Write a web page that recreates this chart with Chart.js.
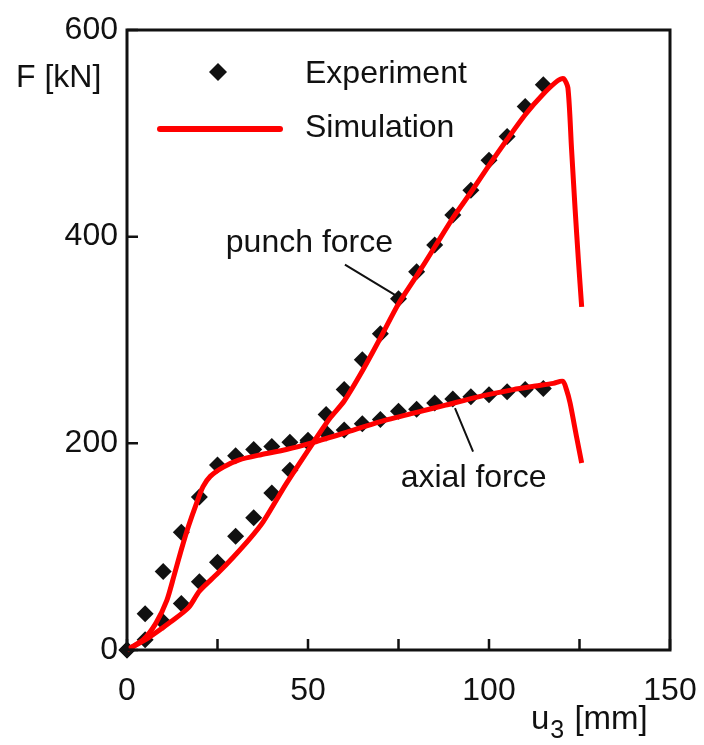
<!DOCTYPE html>
<html>
<head>
<meta charset="utf-8">
<script src="https://cdn.jsdelivr.net/npm/chart.js@4"></script>
<style>
  html, body { margin: 0; padding: 0; background: #fff; }
  #wrap { width: 704px; height: 745px; }
</style>
</head>
<body>
<div id="wrap"><canvas id="forceChart" width="704" height="745"></canvas></div>
<script>
// displacement u3 [mm] of the test readings
const expU = [0, 5, 10, 15, 20, 25, 30, 35, 40, 45, 50, 55, 60, 65, 70, 75, 80, 85, 90, 95, 100, 105, 110, 115];
const expPunch = [0, 10, 27, 45, 66, 85, 110, 128, 152, 174, 201, 228, 252, 281, 306, 340, 366, 392, 421, 445, 474, 497, 526, 547];
const expAxial = [0, 35, 76, 114, 148, 179, 188, 194, 197, 201, 203, 210, 213, 219, 223, 231, 233, 239, 243, 245, 247, 250, 252, 253];

// simulated curves
const simPunchU = [0, 6, 12, 17, 20, 25, 29.4, 34, 37.6, 44, 51.5, 56, 60, 65, 70, 75, 80, 85, 90, 95, 100, 105, 110, 115, 119, 120.6, 121.8, 122.8, 123.8, 124.7, 125.6];
const simPunchF = [0, 12, 27, 41, 57, 74, 90, 108, 124, 161, 201, 224, 241, 270, 302, 335, 362, 390, 418, 443, 469, 494, 518, 538, 551, 553, 544, 485, 426, 377, 332];
const simAxialU = [0, 4.5, 8, 11, 13, 15, 17, 19.2, 21, 23, 26.6, 31, 37, 44, 51.5, 60, 70, 80, 88, 97, 106.7, 112, 117.8, 120.4, 121.4, 122.4, 124.2, 125.6];
const simAxialF = [0, 10, 26, 48, 72, 97, 120, 142, 158, 168, 177, 184, 189, 194, 201, 210, 221, 230, 237, 245, 252, 255, 258, 260, 252, 239, 206, 181];

const xTicks = [0, 50, 100, 150];
const xMinor = [25, 75, 125];
const yTicks = [0, 200, 400, 600];

const FONT = "'Liberation Sans', Arial, sans-serif";
const INK = "#111";
const RED = "#ff0000";

function pairs(xs, ys) {
  return xs.map((x, i) => ({ x: x, y: ys[i] }));
}

// frame, inward ticks, titles, legend and curve labels
const decorations = {
  id: "decorations",
  afterDatasetsDraw(chart) {
    const ctx = chart.ctx;
    const a = chart.chartArea;
    const sx = chart.scales.x;
    const sy = chart.scales.y;
    ctx.save();

    ctx.strokeStyle = INK;
    ctx.lineWidth = 3;
    ctx.strokeRect(a.left, a.top, a.right - a.left, a.bottom - a.top);

    ctx.lineWidth = 2.5;
    ctx.beginPath();
    xTicks.concat(xMinor).forEach(v => {
      const px = sx.getPixelForValue(v);
      ctx.moveTo(px, a.bottom);
      ctx.lineTo(px, a.bottom - 11);
    });
    yTicks.forEach(v => {
      const py = sy.getPixelForValue(v);
      ctx.moveTo(a.left, py);
      ctx.lineTo(a.left + 11, py);
    });
    ctx.stroke();

    ctx.fillStyle = INK;
    ctx.font = "32px " + FONT;
    ctx.textBaseline = "middle";
    ctx.textAlign = "left";
    ctx.fillText("F [kN]", 16, 78);

    // x axis title with subscript
    ctx.textBaseline = "alphabetic";
    ctx.font = "33px " + FONT;
    let tx = 531;
    ctx.fillText("u", tx, 729);
    tx += ctx.measureText("u").width;
    ctx.font = "25px " + FONT;
    ctx.fillText("3", tx + 1, 738);
    tx += ctx.measureText("3").width + 2;
    ctx.font = "33px " + FONT;
    ctx.fillText(" [mm]", tx, 729);

    // legend
    ctx.font = "32px " + FONT;
    ctx.textBaseline = "middle";
    ctx.fillText("Experiment", a.left + 178, 74);
    ctx.fillText("Simulation", a.left + 178, 128);
    ctx.beginPath();
    ctx.moveTo(218, 63);
    ctx.lineTo(227, 72);
    ctx.lineTo(218, 81);
    ctx.lineTo(209, 72);
    ctx.closePath();
    ctx.fill();
    ctx.strokeStyle = RED;
    ctx.lineWidth = 6;
    ctx.lineCap = "round";
    ctx.beginPath();
    ctx.moveTo(160, 129);
    ctx.lineTo(280, 129);
    ctx.stroke();

    // curve labels with leader lines
    ctx.fillStyle = INK;
    ctx.fillText("punch force", sx.getPixelForValue(27.3), sy.getPixelForValue(394));
    ctx.fillText("axial force", sx.getPixelForValue(75.6), sy.getPixelForValue(166));
    ctx.strokeStyle = INK;
    ctx.lineWidth = 2;
    ctx.lineCap = "butt";
    ctx.beginPath();
    ctx.moveTo(sx.getPixelForValue(60.2), sy.getPixelForValue(373));
    ctx.lineTo(sx.getPixelForValue(74.8), sy.getPixelForValue(342));
    ctx.moveTo(sx.getPixelForValue(90.6), sy.getPixelForValue(234));
    ctx.lineTo(sx.getPixelForValue(95.6), sy.getPixelForValue(192));
    ctx.stroke();

    ctx.restore();
  }
};

new Chart(document.getElementById("forceChart"), {
  type: "scatter",
  data: {
    datasets: [
      {
        label: "Simulation punch",
        data: pairs(simPunchU, simPunchF),
        showLine: true,
        borderColor: RED,
        borderWidth: 5,
        pointRadius: 0,
        tension: 0.25,
        order: 0
      },
      {
        label: "Simulation axial",
        data: pairs(simAxialU, simAxialF),
        showLine: true,
        borderColor: RED,
        borderWidth: 5,
        pointRadius: 0,
        tension: 0.25,
        order: 0
      },
      {
        label: "Experiment punch",
        data: pairs(expU, expPunch),
        pointStyle: "rectRot",
        pointRadius: 8.5,
        backgroundColor: INK,
        borderWidth: 0,
        order: 1
      },
      {
        label: "Experiment axial",
        data: pairs(expU, expAxial),
        pointStyle: "rectRot",
        pointRadius: 8.5,
        backgroundColor: INK,
        borderWidth: 0,
        order: 1
      }
    ]
  },
  options: {
    responsive: false,
    animation: false,
    clip: false,
    layout: { padding: { left: 0, top: 30, right: 34, bottom: 0 } },
    plugins: {
      legend: { display: false },
      tooltip: { enabled: false }
    },
    scales: {
      x: {
        type: "linear",
        min: 0,
        max: 150,
        grid: { display: false, drawTicks: false },
        border: { display: false },
        afterBuildTicks: s => { s.ticks = xTicks.map(v => ({ value: v })); },
        afterFit: s => { s.height = 95; s.paddingLeft = 0; s.paddingRight = 0; },
        ticks: { color: INK, font: { family: FONT, size: 32 }, padding: 22, maxRotation: 0 }
      },
      y: {
        type: "linear",
        min: 0,
        max: 600,
        grid: { display: false, drawTicks: false },
        border: { display: false },
        afterBuildTicks: s => { s.ticks = yTicks.map(v => ({ value: v })); },
        afterFit: s => { s.width = 127; s.paddingTop = 0; s.paddingBottom = 0; },
        ticks: { color: INK, font: { family: FONT, size: 32 }, padding: 9 }
      }
    }
  },
  plugins: [decorations]
});
</script>
</body>
</html>
